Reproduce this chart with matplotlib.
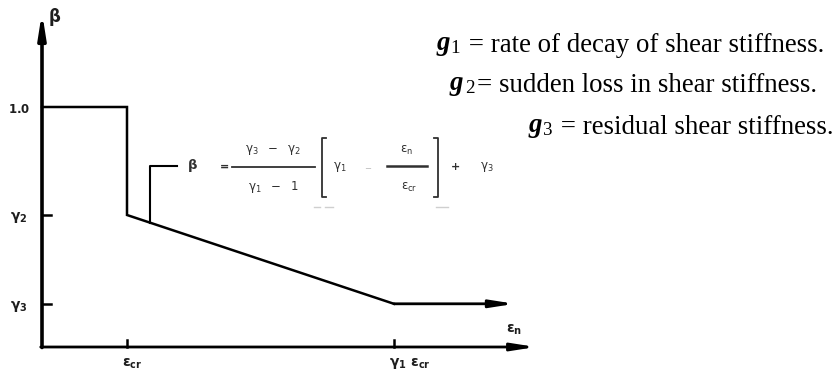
import matplotlib
matplotlib.use("Agg")
import matplotlib.pyplot as plt
from matplotlib.transforms import Affine2D
from matplotlib.lines import Line2D

# Shear retention factor beta against crack-normal strain (strain in multiples of eps_cr)
gamma1 = 4.14
gamma2 = 0.55
gamma3 = 0.18
strain = [0.0, 1.0, 1.0, gamma1, 5.56]
beta = [1.0, 1.0, gamma2, gamma3, gamma3]

ytick_vals = [1.0, gamma2, gamma3]
ytick_labels = [r"$\mathbf{1.0}$", r"$\mathbf{\gamma_2}$", r"$\mathbf{\gamma_3}$"]
xtick_vals = [1.0, gamma1]
xtick_labels = [r"$\mathbf{\epsilon_{cr}}$", r"$\mathbf{\gamma_1\ \epsilon_{cr}}$"]

note_symbols = [r"$\mathbfit{g}_{1}$", r"$\mathbfit{g}_{\,2}$", r"$\mathbfit{g}_{3}$"]
note_texts = [" = rate of decay of shear stiffness.",
              "= sudden loss in shear stiffness.",
              " = residual shear stiffness."]

plt.rcParams["mathtext.fontset"] = "custom"
plt.rcParams["mathtext.rm"] = "Liberation Serif"
plt.rcParams["mathtext.it"] = "Liberation Serif:italic"
plt.rcParams["mathtext.bf"] = "Liberation Serif:bold"
plt.rcParams["mathtext.bfit"] = "Liberation Serif:italic:bold"

W, H = 837, 372
fig = plt.figure(figsize=(W / 100, H / 100), dpi=100)
ax = fig.add_axes([0, 0, 1, 1])
x0_px, y0_px, sx, sy = 42, 347, 85.0, 240.0
ax.set_xlim(-x0_px / sx, (W - x0_px) / sx)
ax.set_ylim(-(H - y0_px) / sy, y0_px / sy)
ax.axis("off")

# pixel placement (origin top-left) for annotation pieces
pix = Affine2D().scale(1, -1).translate(0, H)

k = "black"
ink = "#1e1e1e"
head = "-|>,head_length=1.4,head_width=0.22"

# axes with arrow heads
ax.annotate("", xy=(0, 1.395), xytext=(0, -0.002),
            arrowprops=dict(arrowstyle=head, lw=2.6, color=k, shrinkA=0, shrinkB=0))
ax.annotate("", xy=(5.81, 0), xytext=(-0.015, 0),
            arrowprops=dict(arrowstyle=head, lw=2.0, color=k, shrinkA=0, shrinkB=0))

# response curve, last segment ends in an arrow
ax.plot(strain[:-1], beta[:-1], color=k, lw=1.8, solid_joinstyle="miter")
ax.annotate("", xy=(strain[-1], beta[-1]), xytext=(strain[-2], beta[-2]),
            arrowprops=dict(arrowstyle=head, lw=2.0, color=k, shrinkA=0, shrinkB=0))

# tick marks and labels
for v, lab in zip(ytick_vals, ytick_labels):
    if v != 1.0:
        ax.plot([0, 0.11], [v, v], color=k, lw=1.8)
    ax.text(-0.27, v - 0.01, lab, ha="center", va="center",
            fontsize=10 if v != 1.0 else 8.5, color=ink, math_fontfamily="dejavusans")
for v, lab in zip(xtick_vals, xtick_labels):
    ax.plot([v, v], [0, 0.03], color=k, lw=1.8)
    ax.text(v - 0.06, -0.068, lab, ha="left", va="center",
            fontsize=10, color=ink, math_fontfamily="dejavusans")

ax.text(0.07, 1.375, r"$\mathbf{\beta}$", ha="left", va="center", fontsize=12, color=ink,
        math_fontfamily="dejavusans")
ax.text(5.55, 0.072, r"$\mathbf{\epsilon_n}$", ha="center", va="center", fontsize=10,
        color=ink, math_fontfamily="dejavusans")

# formula callout: leader from the descending branch
bx = 1.27
by = gamma2 + (gamma3 - gamma2) * (bx - 1.0) / (gamma1 - 1.0)
ax.plot([bx, bx, 1.59], [by, 0.754, 0.754], color=k, lw=1.5)

grey = "#303030"
def ftext(x, y, s, size=8.5, **kw):
    fig.text(x, y, s, transform=pix, ha="center", va="center", fontsize=size,
             color=grey, math_fontfamily="dejavusans", **kw)

def fline(xs, ys, lw=1.3, color=grey):
    fig.add_artist(Line2D(xs, ys, transform=pix, lw=lw, color=color))

ftext(192, 166, r"$\mathbf{\beta}$", size=9.5)
ftext(223, 166, r"$\mathbf{=}$", size=8)
ftext(273, 150, r"$\mathrm{\gamma_3\ \ -\ \ \gamma_2}$")
fline([232, 315], [167, 167])
ftext(273, 187, r"$\mathrm{\gamma_1\ \ -\ \ 1}$")
fline([326, 322, 322, 326], [138, 138, 197, 197])
ftext(340, 167, r"$\mathrm{\gamma_1}$")
ftext(368, 167, r"$-$", size=6, alpha=0.35)
ftext(407, 150, r"$\mathrm{\epsilon_n}$")
fline([387, 427], [166, 166], lw=1.8)
ftext(409, 187, r"$\mathrm{\epsilon_{cr}}$")
fline([434, 438, 438, 434], [138, 138, 197, 197])
ftext(455, 167, r"$\mathbf{+}$", size=8)
ftext(487, 167, r"$\mathrm{\gamma_3}$")
fline([314, 320], [207, 207], lw=1.0, color="#cfcfcf")
fline([325, 333], [207, 207], lw=1.0, color="#cfcfcf")
fline([436, 448], [207, 207], lw=1.0, color="#cfcfcf")

# parameter descriptions
rows_px = [(436, 45), (449, 85), (528, 128)]
for (xp, yp), sym, txt in zip(rows_px, note_symbols, note_texts):
    t = fig.text(xp, yp, sym, transform=pix, ha="left", va="center", fontsize=19.4,
                 family="Liberation Serif")
    fig.canvas.draw()
    bb = t.get_window_extent()
    fig.text(bb.x1 + 1, yp, txt, transform=pix, ha="left", va="center", fontsize=19.4,
             family="Liberation Serif")

fig.savefig("out.png", dpi=100)
